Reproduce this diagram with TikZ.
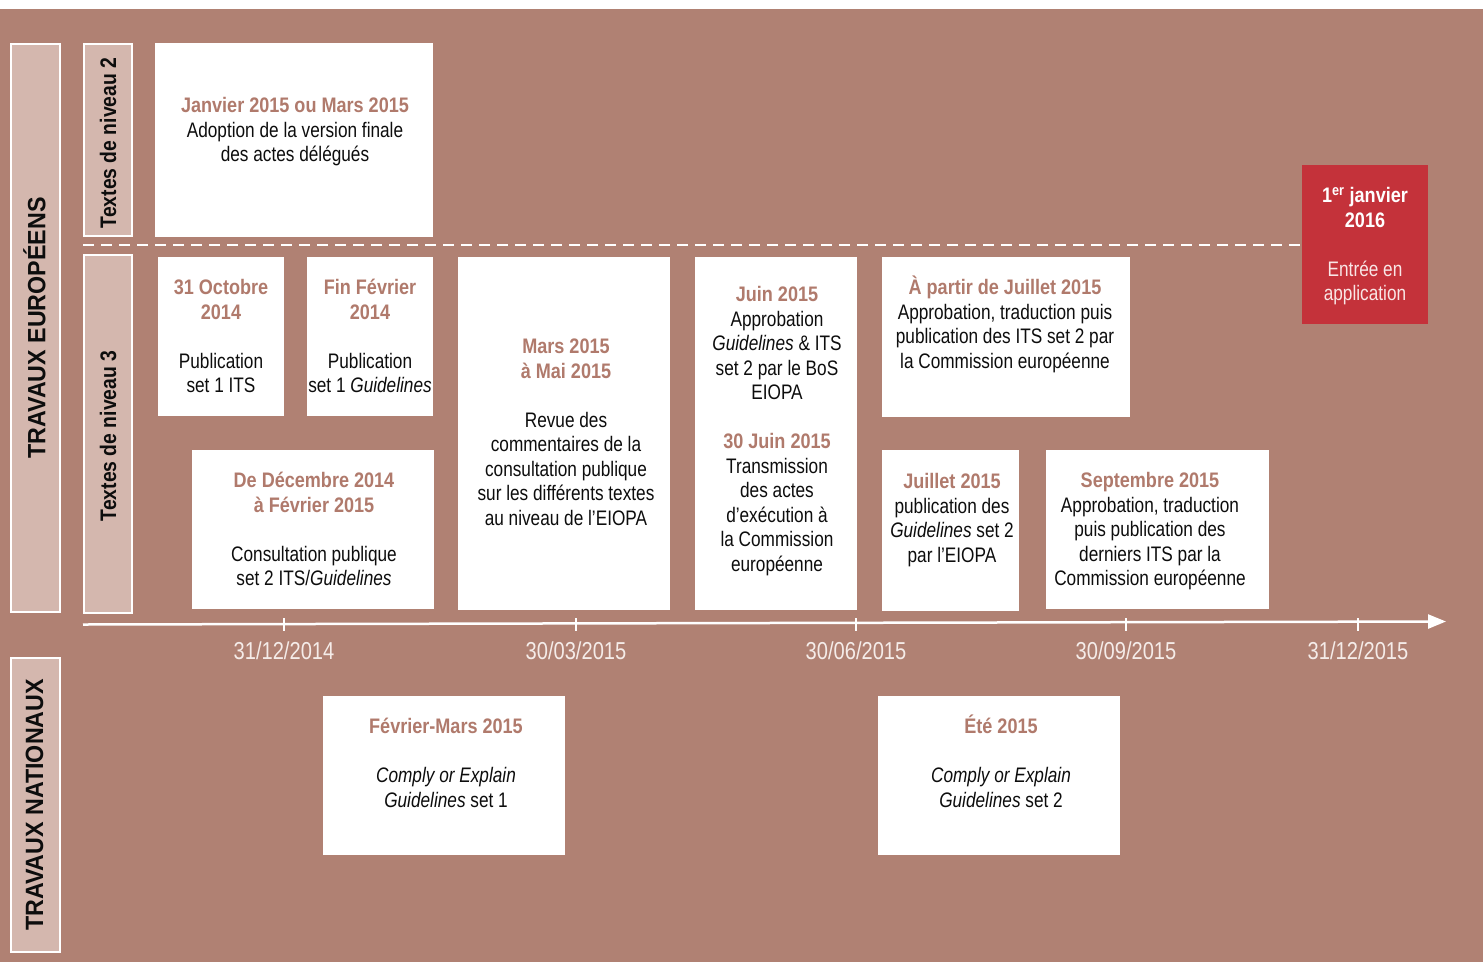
\documentclass[tikz,border=0pt]{standalone}
\usepackage{fontspec}
\setmainfont{Liberation Sans}[FakeStretch=0.82, BoldFeatures={FakeStretch=0.86}]
\newfontfamily\barfont{Liberation Sans}[FakeStretch=0.93]
\usetikzlibrary{arrows.meta}
\definecolor{bg}{HTML}{B08173}
\definecolor{lab}{HTML}{D4B7AE}
\definecolor{ttl}{HTML}{B07A6C}
\definecolor{redbox}{HTML}{C4323A}
\definecolor{datecol}{HTML}{F5ECE9}
\definecolor{ink}{HTML}{0D0D0D}
\definecolor{redtxt}{HTML}{F9E6E6}
\newcommand\tlhead[1]{{\bfseries\color{ttl}#1}}
\newcommand\tlstrut{\rule{0pt}{20pt}}
\tikzset{
  box/.style={fill=white, draw=none, anchor=north west, inner sep=0pt, outer sep=0pt},
  lbar/.style={fill=lab, draw=white, line width=2.5pt, anchor=north west, inner sep=0pt, outer sep=0pt},
  txt/.style={anchor=north, align=center, inner sep=0pt, text=ink, font=\fontsize{21}{24.5}\selectfont},
  barlab/.style={rotate=90, inner sep=0pt, text=ink, font=\barfont\bfseries\fontsize{25}{30}\selectfont},
  nivlab/.style={rotate=90, inner sep=0pt, text=ink, font=\bfseries\fontsize{22.5}{27}\selectfont},
  datelab/.style={inner sep=0pt, text=datecol, font=\fontsize{24.5}{29}\selectfont},
  axisline/.style={draw=white, line width=2.5pt},
  tickline/.style={draw=white, line width=2.5pt},
  sepline/.style={draw=white, line width=2.5pt, dash pattern=on 11pt off 7pt}
}
\begin{document}
\begin{tikzpicture}[x=1pt,y=-1pt]
\useasboundingbox (0,0) rectangle (1483,962);
\fill[white] (0,0) rectangle (1483,962);
\fill[bg] (0,9) rectangle (1483,962);

% side bars
\node[lbar, minimum width=49pt, minimum height=568pt] (eu) at (11,44) {};
\node[barlab] (eut) at ([xshift=-1pt]eu.center) {TRAVAUX EUROPÉENS};
\node[lbar, minimum width=49pt, minimum height=294pt] (nat) at (11,658) {};
\node[barlab] (natt) at ([xshift=-1pt]nat.center) {TRAVAUX NATIONAUX};
\node[lbar, minimum width=48pt, minimum height=192pt] (n2) at (84,44) {};
\node[nivlab] (n2t) at ([yshift=-3pt]n2.center) {Textes de niveau 2};
\node[lbar, minimum width=48pt, minimum height=358pt] (n3) at (84,255) {};
\node[nivlab] (n3t) at ([yshift=-2pt]n3.center) {Textes de niveau 3};

% separator
\coordinate (sepstart) at (83,245);
\node[fill=redbox, anchor=north west, inner sep=0pt, outer sep=0pt, minimum width=126pt, minimum height=159pt] (red) at (1302,165) {};
\draw[sepline] (sepstart) -- (sepstart -| red.west);

% white boxes
\node[box, minimum width=278pt, minimum height=194pt] (nv2) at (155,43) {};
\node[box, minimum width=126pt, minimum height=159pt] (oct) at (158,257) {};
\node[box, minimum width=126pt, minimum height=159pt] (fev) at (307,257) {};
\node[box, minimum width=242pt, minimum height=159pt] (dec) at (192,450) {};
\node[box, minimum width=212pt, minimum height=353pt] (mars) at (458,257) {};
\node[box, minimum width=162pt, minimum height=353pt] (juin) at (695,257) {};
\node[box, minimum width=248pt, minimum height=160pt] (apartir) at (882,257) {};
\node[box, minimum width=137pt, minimum height=161pt] (juil) at (882,450) {};
\node[box, minimum width=223pt, minimum height=159pt] (sept) at (1046,450) {};
\node[box, minimum width=242pt, minimum height=159pt] (fevmars) at (323,696) {};
\node[box, minimum width=242pt, minimum height=159pt] (ete) at (878,696) {};

% texts
\node[txt] (nv2t) at (295,92.5) {\tlstrut\tlhead{Janvier 2015 ou Mars 2015}\\Adoption de la version finale\\des actes délégués};
\node[txt] (octt) at (221,274.5) {\tlstrut\tlhead{31 Octobre}\\\tlhead{2014}\\[24.5pt]Publication\\set 1 ITS};
\node[txt] (fevt) at (370,274.5) {\tlstrut\tlhead{Fin Février}\\\tlhead{2014}\\[24.5pt]Publication\\set 1 \textit{Guidelines}};
\node[txt] (dect) at (314,467.5) {\tlstrut\tlhead{De Décembre 2014}\\\tlhead{à Février 2015}\\[24.5pt]Consultation publique\\set 2 ITS/\textit{Guidelines}};
\node[txt] (marst) at (566,333.5) {\tlstrut\tlhead{Mars 2015}\\\tlhead{à Mai 2015}\\[24.5pt]Revue des\\commentaires de la\\consultation publique\\sur les différents textes\\au niveau de l’EIOPA};
\node[txt] (juint) at (777,281.5) {\tlstrut\tlhead{Juin 2015}\\Approbation\\\textit{Guidelines} \& ITS\\set 2 par le BoS\\EIOPA\\[24.5pt]\tlhead{30 Juin 2015}\\Transmission\\des actes\\d’exécution à\\la Commission\\européenne};
\node[txt] (apartirt) at (1005,274.5) {\tlstrut\tlhead{À partir de Juillet 2015}\\Approbation, traduction puis\\publication des ITS set 2 par\\la Commission européenne};
\node[txt] (juilt) at (952,468.5) {\tlstrut\tlhead{Juillet 2015}\\publication des\\\textit{Guidelines} set 2\\par l’EIOPA};
\node[txt] (septt) at (1150,467.5) {\tlstrut\tlhead{Septembre 2015}\\Approbation, traduction\\puis publication des\\derniers ITS par la\\Commission européenne};
\node[txt] (redt) at (1365,182.5) {\tlstrut{\bfseries\color{white}1\textsuperscript{er} janvier}\\{\bfseries\color{white}2016}\\[24.5pt]{\color{redtxt}Entrée en}\\{\color{redtxt}application}};
\node[txt] (fevmarst) at (446,713.5) {\tlstrut\tlhead{Février-Mars 2015}\\[24.5pt]\textit{Comply or Explain}\\\textit{Guidelines} set 1};
\node[txt] (etet) at (1001,713.5) {\tlstrut\tlhead{Été 2015}\\[24.5pt]\textit{Comply or Explain}\\\textit{Guidelines} set 2};

% time axis
\coordinate (axstart) at (83,624.5);
\coordinate (axend) at (1446,621.5);
\draw[axisline, -{Triangle[length=18pt,width=14pt]}] (axstart) -- (axend);
\foreach \x/\d/\n in {284/31\slash 12\slash 2014/a, 576/30\slash 03\slash 2015/b, 856/30\slash 06\slash 2015/c, 1126/30\slash 09\slash 2015/d, 1358/31\slash 12\slash 2015/e}{
  \coordinate (tick\n top) at (\x,618);
  \coordinate (tick\n bot) at (\x,631);
  \draw[tickline] (tick\n top) -- (tick\n bot);
  \node[datelab] (date\n) at (\x,651) {\d};
}
\end{tikzpicture}
\end{document}
